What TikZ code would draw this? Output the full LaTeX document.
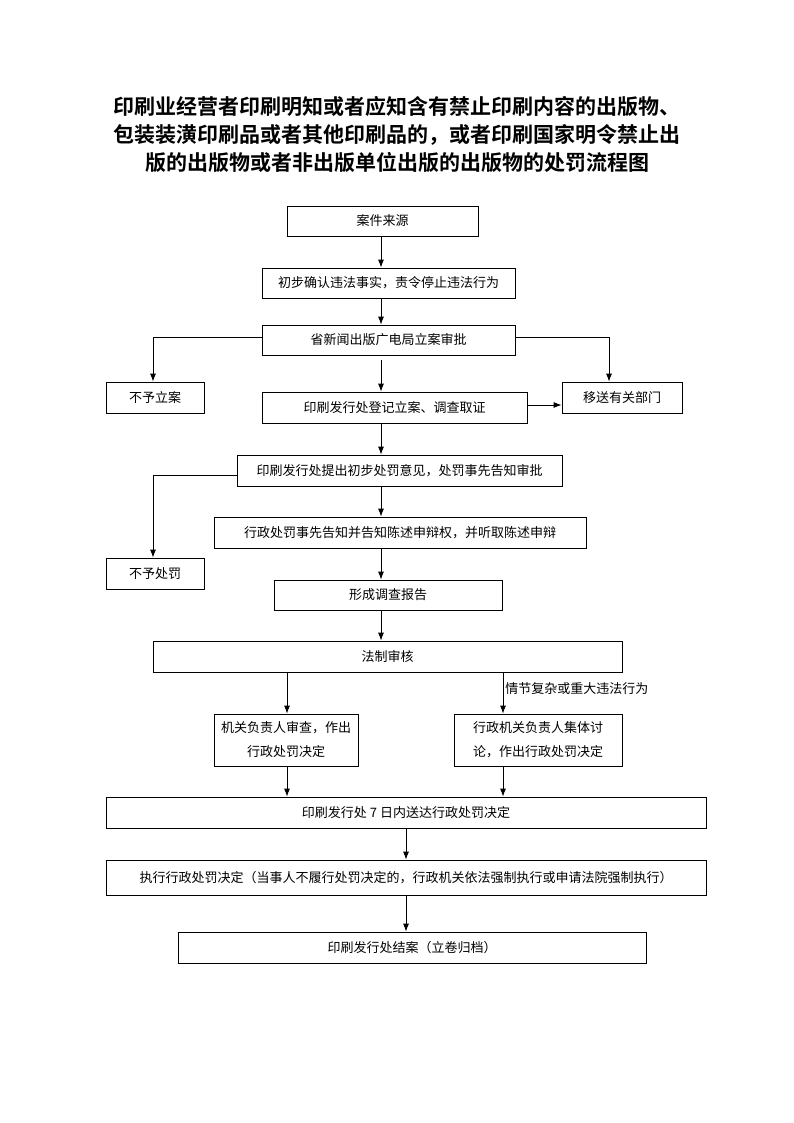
\documentclass[tikz,border=0pt]{standalone}
\usepackage{fontspec}
\setmainfont{Noto Sans CJK SC}
\newfontfamily\titlefont{Noto Sans CJK SC Bold}
\usetikzlibrary{arrows.meta}
\begin{document}
\begin{tikzpicture}[x=1pt,y=-1pt,
  box/.style={draw,line width=0.8pt,inner sep=0pt,font=\fontsize{13}{24}\selectfont,align=center},
  arr/.style={line width=0.8pt,-{Latex[length=8pt,width=6pt]}},
  ln/.style={line width=0.8pt}]
\useasboundingbox[fill=white] (0,0) rectangle (794,1123);
\node[font=\titlefont\fontsize{21}{28}\selectfont,align=center] (title) at (397,135)
 {印刷业经营者印刷明知或者应知含有禁止印刷内容的出版物、\\包装装潢印刷品或者其他印刷品的，或者印刷国家明令禁止出\\版的出版物或者非出版单位出版的出版物的处罚流程图};
\newcommand{\bx}[6]{\node[box,minimum width=#4-#2,minimum height=#5-#3] (#1) at ({(#2+#4)/2},{(#3+#5)/2}) {#6};}
\bx{a}{287}{206}{478}{236}{案件来源}
\bx{b}{262}{268}{515}{298}{初步确认违法事实，责令停止违法行为}
\bx{c}{262}{325}{515}{355}{省新闻出版广电局立案审批}
\bx{d}{106}{382}{204}{413}{不予立案}
\bx{e}{262}{392}{527}{423}{印刷发行处登记立案、调查取证}
\bx{f}{562}{382}{682}{413}{移送有关部门}
\bx{g}{237}{455}{562}{486}{印刷发行处提出初步处罚意见，处罚事先告知审批}
\bx{h}{214}{517}{586}{548}{行政处罚事先告知并告知陈述申辩权，并听取陈述申辩}
\bx{i}{106}{558}{204}{589}{不予处罚}
\bx{j}{274}{580}{502}{610}{形成调查报告}
\bx{k}{153}{641}{622}{672}{法制审核}
\bx{l}{214}{714}{358}{766}{机关负责人审查，作出\\行政处罚决定}
\bx{m}{454}{714}{622}{766}{行政机关负责人集体讨\\论，作出行政处罚决定}
\bx{n}{106}{797}{706}{828}{印刷发行处 7 日内送达行政处罚决定}
\bx{o}{106}{860}{706}{895}{执行行政处罚决定（当事人不履行处罚决定的，行政机关依法强制执行或申请法院强制执行）}
\bx{p}{178}{932}{646}{963}{印刷发行处结案（立卷归档）}
\draw[arr] (381,236) -- (b.north -| 381,0);
\draw[arr] (381,298) -- (c.north -| 381,0);
\draw[arr] (381,360) -- (e.north -| 381,0);
\draw[arr] (381,423) -- (g.north -| 381,0);
\draw[arr] (381,486) -- (h.north -| 381,0);
\draw[arr] (381,548) -- (j.north -| 381,0);
\draw[arr] (381,610) -- (k.north -| 381,0);
\coordinate (cl) at (153,337);
\coordinate (cr) at (609,337);
\draw[ln] (c.west |- cl) -- (cl); \draw[arr] (cl) -- (d.north -| cl);
\draw[ln] (c.east |- cr) -- (cr); \draw[arr] (cr) -- (f.north -| cr);
\draw[arr] (e.east |- 0,405) -- (f.west |- 0,405);
\coordinate (gl) at (153,475);
\draw[ln] (g.west |- gl) -- (gl); \draw[arr] (gl) -- (i.north -| gl);
\draw[arr] (k.south -| 287,0) -- (l.north -| 287,0);
\draw[arr] (k.south -| 503,0) -- node[right,pos=0.4,font=\fontsize{13}{14}\selectfont,inner sep=2pt]{情节复杂或重大违法行为} (m.north -| 503,0);
\draw[arr] (l.south -| 287,0) -- (n.north -| 287,0);
\draw[arr] (m.south -| 503,0) -- (n.north -| 503,0);
\draw[arr] (n.south -| 406,0) -- (o.north -| 406,0);
\draw[arr] (o.south -| 406,0) -- (p.north -| 406,0);
\end{tikzpicture}
\end{document}
